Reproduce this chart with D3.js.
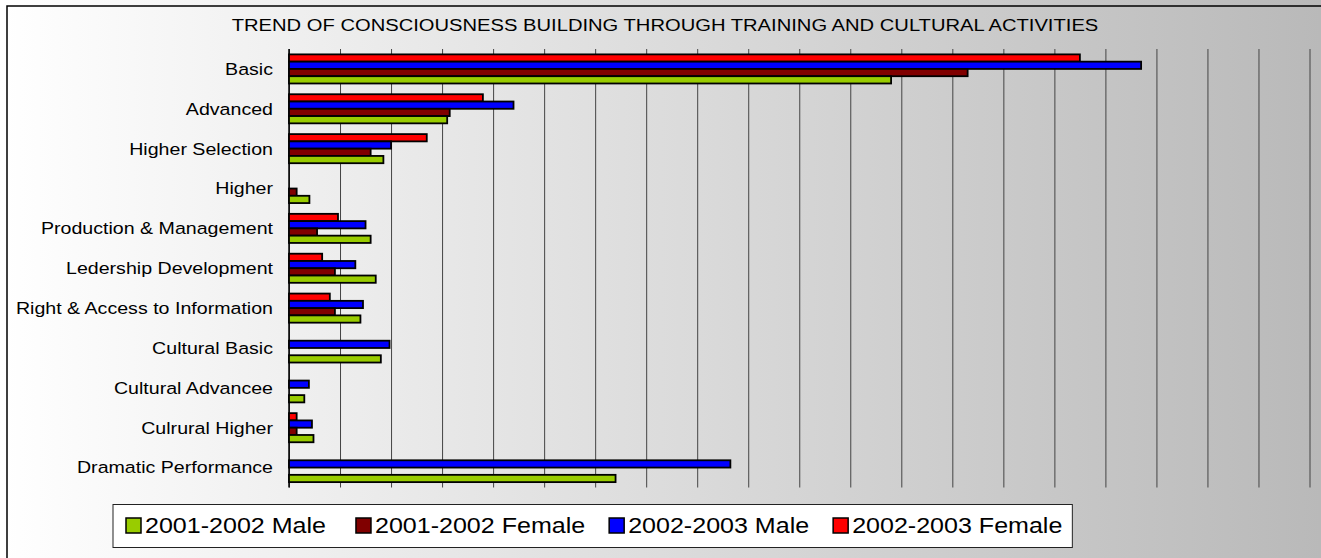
<!DOCTYPE html>
<html>
  <head>
    <meta charset="utf-8" />
    <script src="https://d3js.org/d3.v7.min.js"></script>
    <style>
      body { margin: 0; background: #fff; }
      text { font-family: Arial, "Liberation Sans", sans-serif; fill: #000; }
    </style>
  </head>
  <body>
    <svg width="1321" height="558" id="chart"></svg>
    <script>
      // data (one gridline = 10 units)
      const categories = [
        "Basic",
        "Advanced",
        "Higher Selection",
        "Higher",
        "Production & Management",
        "Ledership Development",
        "Right & Access to Information",
        "Cultural Basic",
        "Cultural Advancee",
        "Culrural Higher",
        "Dramatic Performance",
      ];
      const seriesNames = [
        "2001-2002 Male",
        "2001-2002 Female",
        "2002-2003 Male",
        "2002-2003 Female",
      ];
      const male0102 = [118, 31, 18.5, 4, 16, 17, 14, 18, 3, 4.8, 64];
      const female0102 = [133, 31.5, 16, 1.5, 5.5, 9, 9, 0, 0, 1.5, 0];
      const male0203 = [167, 44, 20, 0, 15, 13, 14.5, 19.7, 3.9, 4.5, 86.5];
      const female0203 = [155, 38, 27, 0, 9.6, 6.5, 8, 0, 0, 1.5, 0];
      const xMax = 200;

      const colors = {
        "2001-2002 Male": "#99cc00",
        "2001-2002 Female": "#800000",
        "2002-2003 Male": "#0000ff",
        "2002-2003 Female": "#ff0000",
      };
      const valuesBySeries = {
        "2001-2002 Male": male0102,
        "2001-2002 Female": female0102,
        "2002-2003 Male": male0203,
        "2002-2003 Female": female0203,
      };

      const svg = d3.select("svg#chart");
      const W = 1321, H = 558;
      const plot = { left: 289, right: 1309.5, top: 49, bottom: 487.5 };
      const stretch = 1.16; // text in the original is drawn a bit wide

      // background gradient
      const defs = svg.append("defs");
      const grad = defs.append("linearGradient").attr("id", "bg")
        .attr("x1", "0").attr("x2", "1").attr("y1", "0").attr("y2", "0");
      grad.append("stop").attr("offset", "0%").attr("stop-color", "#ffffff");
      grad.append("stop").attr("offset", "100%").attr("stop-color", "#b9b9b9");

      svg.append("rect")
        .attr("x", 0).attr("y", 0).attr("width", W).attr("height", H)
        .attr("fill", "url(#bg)");
      // outer frame
      svg.append("rect")
        .attr("x", 7).attr("y", 6).attr("width", W + 10).attr("height", H + 10)
        .attr("fill", "none").attr("stroke", "#000").attr("stroke-width", 1.5);

      // title
      svg.append("text")
        .attr("transform", `translate(665, 30.5) scale(${stretch},1)`)
        .attr("text-anchor", "middle")
        .style("font-size", "17.4px")
        .text("TREND OF CONSCIOUSNESS BUILDING THROUGH TRAINING AND CULTURAL ACTIVITIES");

      const xScale = d3.scaleLinear().domain([0, xMax]).range([plot.left, plot.right]);
      const yScale = d3.scaleBand().domain(categories)
        .range([plot.top, plot.bottom]).paddingInner(0.27).paddingOuter(0.135);
      // within a group the newest series sits on top
      const barOrder = seriesNames.slice().reverse();
      const yInner = d3.scaleBand().domain(barOrder).range([0, yScale.bandwidth()]);

      // vertical gridlines
      const grid = d3.axisBottom(xScale).ticks(20)
        .tickSize(-(plot.bottom - plot.top)).tickFormat("");
      const gridG = svg.append("g")
        .attr("transform", `translate(0, ${plot.bottom})`)
        .call(grid);
      gridG.select(".domain").remove();
      gridG.selectAll("line").attr("stroke", "#444").attr("stroke-width", 1);

      // category axis line
      svg.append("line")
        .attr("x1", xScale(0)).attr("x2", xScale(0))
        .attr("y1", plot.top).attr("y2", plot.bottom)
        .attr("stroke", "#000").attr("stroke-width", 1.5);

      // bars
      categories.forEach((cat, i) => {
        barOrder.forEach((s) => {
          const v = valuesBySeries[s][i];
          if (!v) return;
          svg.append("rect")
            .attr("x", xScale(0))
            .attr("y", yScale(cat) + yInner(s))
            .attr("width", xScale(v) - xScale(0))
            .attr("height", yInner.bandwidth())
            .attr("fill", colors[s])
            .attr("stroke", "#000")
            .attr("stroke-width", 1.8);
        });
      });

      // category labels
      categories.forEach((cat) => {
        svg.append("text")
          .attr("transform",
            `translate(${plot.left - 16}, ${yScale(cat) + yScale.bandwidth() / 2}) scale(${stretch},1)`)
          .attr("text-anchor", "end")
          .attr("dy", "0.35em")
          .style("font-size", "16.9px")
          .text(cat);
      });

      // legend
      const legend = svg.append("g");
      const legendBox = legend.append("rect")
        .attr("x", 113).attr("y", 504.5).attr("height", 43)
        .attr("fill", "#fff").attr("stroke", "#222").attr("stroke-width", 1);
      let lx = 126;
      seriesNames.forEach((s, i) => {
        legend.append("rect")
          .attr("x", lx).attr("y", 518).attr("width", 15).attr("height", 15)
          .attr("fill", colors[s]).attr("stroke", "#000").attr("stroke-width", 1.5);
        const t = legend.append("text")
          .attr("transform", `translate(${lx + 19}, 533) scale(${stretch},1)`)
          .style("font-size", "21.6px")
          .text(s);
        const w = t.node().getComputedTextLength() * stretch;
        lx += 19 + w + (i === 0 ? 30 : 24);
      });
      legendBox.attr("width", lx - 24 + 10 - 113);
    </script>
  </body>
</html>
